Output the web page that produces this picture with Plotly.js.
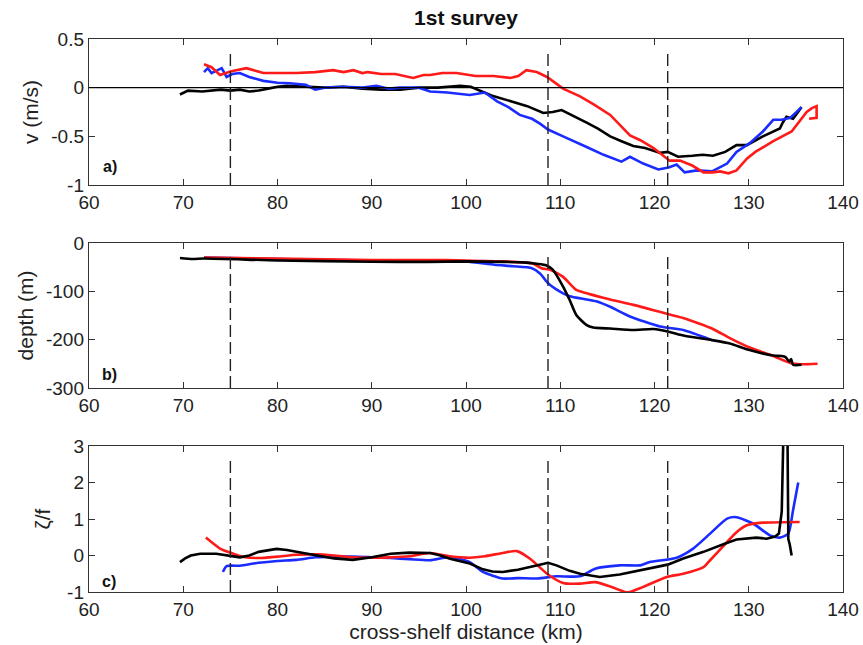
<!DOCTYPE html>
<html>
<head>
<meta charset="utf-8">
<script src="https://cdn.plot.ly/plotly-3.0.1.min.js"></script>
<style>html,body{margin:0;padding:0;background:#fff;}#chart{width:863px;height:645px;}</style>
</head>
<body>
<div id="chart"></div>
<script>
// ---------- data ----------
const xTicks = [60, 70, 80, 90, 100, 110, 120, 130, 140];
const xTickText = ["60", "70", "80", "90", "100", "110", "120", "130", "140"];
const vTicks = [-1, -0.5, 0, 0.5];
const vTickText = ["-1", "-0.5", "0", "0.5"];
const dTicks = [-300, -200, -100, 0];
const dTickText = ["-300", "-200", "-100", "0"];
const zTicks = [-1, 0, 1, 2, 3];
const zTickText = ["-1", "0", "1", "2", "3"];
const sectionBounds = [75, 108.7, 121.4];

// panel a: v (m/s)
const aBlackX = [69.65, 70.5, 72, 74, 75, 76, 77, 78, 79, 80, 81, 83, 85, 87, 89, 91, 93, 95, 97, 99.4, 100.5, 102.7, 104.5, 106.5, 108.2, 109.2, 110.15, 111.5, 112.8, 114, 115.3, 116.5, 117.75, 119, 120.6, 121.4, 122.5, 124, 125.1, 126.2, 127.5, 128.7, 129.8, 131.5, 133.3, 133.6, 134.0, 134.7, 135.6];
const aBlackY = [-0.07, -0.03, -0.04, -0.02, -0.03, -0.02, -0.04, -0.03, -0.01, 0.01, 0.02, 0.01, 0.0, 0.01, -0.01, -0.02, -0.02, 0.0, 0.0, 0.02, 0.01, -0.08, -0.13, -0.19, -0.26, -0.25, -0.23, -0.3, -0.36, -0.42, -0.5, -0.55, -0.6, -0.62, -0.67, -0.66, -0.71, -0.7, -0.69, -0.70, -0.66, -0.59, -0.59, -0.50, -0.42, -0.36, -0.30, -0.32, -0.20];
const aBlueX = [72.2, 72.6, 73.0, 73.5, 74.08, 74.6, 75.2, 76.0, 77.0, 78.5, 80, 81.3, 83, 84, 85, 87, 89, 90.5, 91.8, 93, 95, 96.2, 98, 100.4, 102.0, 103.3, 104.5, 105.7, 107, 107.85, 108.7, 110.3, 111.5, 112.8, 114.6, 116.5, 117.4, 118.8, 120.4, 121.5, 122.35, 123.2, 124.5, 126.1, 127.7, 128.7, 130.1, 131.5, 132.6, 133.5, 134.4, 135.6];
const aBlueY = [0.16, 0.2, 0.15, 0.17, 0.2, 0.11, 0.14, 0.15, 0.11, 0.07, 0.05, 0.045, 0.03, -0.02, 0.0, 0.01, 0.0, 0.02, -0.01, 0.0, 0.0, -0.04, -0.05, -0.075, -0.05, -0.14, -0.2, -0.28, -0.32, -0.37, -0.43, -0.50, -0.55, -0.61, -0.69, -0.76, -0.71, -0.78, -0.84, -0.82, -0.79, -0.87, -0.85, -0.86, -0.78, -0.66, -0.57, -0.45, -0.33, -0.33, -0.31, -0.20];
const aRedX = [72.2, 73.0, 73.9, 75.0, 76.7, 78.5, 80, 82, 84, 85.9, 87, 88.05, 89, 89.6, 91, 92.5, 94.4, 95.5, 96.2, 97.5, 99.0, 101, 102.9, 104.7, 105.55, 106.4, 107.5, 108.6, 110.3, 112.1, 113.5, 115.3, 117.4, 118.5, 119.9, 121.6, 122.7, 124, 125.2, 126.2, 126.95, 127.85, 128.7, 129.8, 130.7, 132.6, 134.55, 136.15, 136.7, 137.2, 137.2, 136.4];
const aRedY = [0.24, 0.21, 0.13, 0.165, 0.2, 0.15, 0.15, 0.15, 0.16, 0.18, 0.16, 0.18, 0.15, 0.16, 0.14, 0.14, 0.10, 0.13, 0.13, 0.15, 0.15, 0.12, 0.12, 0.10, 0.12, 0.18, 0.16, 0.11, -0.01, -0.09, -0.17, -0.28, -0.49, -0.54, -0.62, -0.75, -0.75, -0.8, -0.87, -0.87, -0.86, -0.88, -0.85, -0.73, -0.66, -0.55, -0.45, -0.25, -0.21, -0.19, -0.31, -0.32];

// panel b: depth (m)
const bBlackX = [69.65, 71, 72.2, 80, 90, 96, 100, 104, 106, 107.5, 108.5, 109.2, 110.3, 111.0, 111.7, 112.8, 113.5, 115.3, 117.75, 119.9, 121.4, 123.2, 126.1, 128, 129.8, 132.6, 133.5, 133.9, 134.3, 134.5, 134.7, 135.6];
const bBlackY = [-31, -33, -32, -36, -38.6, -39, -38, -39, -40, -43, -46, -55, -90, -118, -149, -170, -175, -177, -180, -178, -183, -192, -201, -208, -220, -233, -234, -236, -245, -240, -252, -252];
const bBlueX = [72.2, 80, 90, 96, 100, 103, 105, 107, 107.85, 108.7, 109.5, 110.3, 111.0, 113.9, 115.3, 117.4, 120.6, 123.05, 126.1];
const bBlueY = [-30, -33, -36, -37, -38, -45, -48, -52, -63, -83, -95, -104, -110, -121, -132, -152, -173, -180, -201];
const bRedX = [72.2, 80, 90, 96, 100, 104, 107, 108, 109, 110.3, 111.7, 112.8, 115.3, 117.75, 119.9, 121.4, 123.2, 124.5, 126.1, 128, 129.8, 132.6, 134.5, 135.5, 137.3];
const bRedY = [-30, -32, -35, -35, -36, -38, -42, -52, -56, -70, -97, -104, -117, -128, -139, -147, -156, -165, -177, -197, -214, -234, -249, -251, -250];

// panel c: zeta/f
const cBlackX = [69.65, 70.2, 70.8, 71.8, 73.5, 75, 76, 77, 78, 79.9, 81, 82, 84, 86, 88, 90, 92, 94, 96.2, 97.3, 98.3, 100.4, 101.8, 102.8, 103.9, 105.5, 107.6, 108.7, 109.6, 111, 112.1, 114.2, 116.3, 118.5, 119.5, 121.4, 123.05, 125.2, 127.3, 128.7, 130.8, 131.9, 132.8, 133.2, 133.5, 133.7, 134.1, 134.2, 134.35, 134.55];
const cBlackY = [-0.18, -0.08, 0.0, 0.05, 0.05, 0.0, -0.05, 0.0, 0.1, 0.18, 0.15, 0.1, 0.0, -0.08, -0.12, -0.05, 0.05, 0.08, 0.07, 0.0, -0.09, -0.22, -0.38, -0.44, -0.45, -0.39, -0.27, -0.2, -0.27, -0.42, -0.5, -0.59, -0.52, -0.41, -0.36, -0.25, -0.08, 0.1, 0.31, 0.44, 0.49, 0.46, 0.52, 0.6, 1.2, 3.6, 3.6, 0.45, 0.3, 0.0];
const cBlueX = [74.2, 74.6, 76, 78, 80, 82, 84, 86, 88, 90, 92, 94, 96.2, 98.3, 100.4, 101.8, 103.9, 105.5, 107.6, 109.6, 112.1, 113.7, 116.3, 118.5, 119.5, 122.35, 124.1, 125.9, 127.7, 128.7, 130.5, 132.25, 133.3, 134.2, 134.7, 135.25];
const cBlueY = [-0.45, -0.29, -0.28, -0.2, -0.15, -0.12, -0.05, -0.03, -0.03, -0.05, -0.07, -0.1, -0.13, -0.04, -0.18, -0.45, -0.63, -0.62, -0.63, -0.57, -0.57, -0.36, -0.27, -0.27, -0.18, -0.06, 0.19, 0.6, 1.01, 1.05, 0.87, 0.55, 0.49, 0.6, 1.24, 2.0];
const cRedX = [72.4, 73.9, 75.3, 76.4, 78, 80, 82, 84, 86, 88, 90, 92, 94, 96.2, 98.3, 100.4, 102, 103.9, 105.4, 106.8, 108.7, 110.3, 112.1, 113.7, 115.3, 116.9, 117.4, 118.8, 121.3, 123.05, 125.2, 125.9, 127.7, 128.7, 129.8, 131.5, 135.4];
const cRedY = [0.49, 0.19, 0.05, -0.04, -0.07, -0.03, 0.02, 0.03, 0.0, -0.05, -0.06, -0.05, -0.02, 0.07, -0.02, -0.06, -0.02, 0.07, 0.12, -0.09, -0.52, -0.75, -0.77, -0.73, -0.85, -1.0, -1.0, -0.86, -0.59, -0.5, -0.32, -0.13, 0.37, 0.64, 0.83, 0.9, 0.92];

// ---------- styling ----------
const BLACK = '#000000', BLUE = '#1a2cff', RED = '#ff1a1a';
const LW = 2.6;
const FONT = '"Liberation Sans", Arial, Helvetica, sans-serif';

function line(x, y, color, xa, ya, shape) {
  return {x: x, y: y, xaxis: xa, yaxis: ya, type: 'scatter', mode: 'lines',
          line: {color: color, width: LW, shape: shape || 'linear', smoothing: 0.6},
          showlegend: false, hoverinfo: 'skip'};
}

const traces = [
  line(aBlackX, aBlackY, BLACK, 'x', 'y'),
  line(aBlueX, aBlueY, BLUE, 'x', 'y'),
  line(aRedX, aRedY, RED, 'x', 'y'),
  line(bBlueX, bBlueY, BLUE, 'x2', 'y2', 'spline'),
  line(bRedX, bRedY, RED, 'x2', 'y2', 'spline'),
  line(bBlackX, bBlackY, BLACK, 'x2', 'y2', 'spline'),
  line(cBlueX, cBlueY, BLUE, 'x3', 'y3', 'spline'),
  line(cRedX, cRedY, RED, 'x3', 'y3', 'spline'),
  line(cBlackX, cBlackY, BLACK, 'x3', 'y3')
];

const tickFont = {family: FONT, size: 19, color: '#222'};
function xAxis(anchor, title) {
  const ax = {domain: [0, 1], anchor: anchor, range: [60, 140], tickvals: xTicks, ticktext: xTickText,
    ticks: 'inside', ticklen: 6, tickwidth: 1, tickcolor: '#333', mirror: 'ticks',
    showline: true, linecolor: '#333', linewidth: 1.2, showgrid: false, zeroline: false,
    tickfont: tickFont, automargin: false};
  if (title) ax.title = {text: title, font: {family: FONT, size: 21, color: '#222'}, standoff: 2};
  return ax;
}
function yAxis(anchor, domain, range, tv, tt, title, standoff) {
  return {domain: domain, anchor: anchor, range: range, tickvals: tv, ticktext: tt,
    ticks: 'inside', ticklen: 6, tickwidth: 1, tickcolor: '#333', mirror: 'ticks',
    showline: true, linecolor: '#333', linewidth: 1.2, showgrid: false, zeroline: false,
    tickfont: tickFont, automargin: false,
    title: {text: title, font: {family: FONT, size: 21, color: '#222'}, standoff: standoff}};
}

const shapes = [];
[['x', 'y'], ['x2', 'y2'], ['x3', 'y3']].forEach(function (p) {
  sectionBounds.forEach(function (b) {
    shapes.push({type: 'line', xref: p[0], yref: p[1] + ' domain', x0: b, x1: b, y0: 0, y1: 0.93,
                 line: {color: '#222', width: 1.4, dash: '12px,5px'}});
  });
});
shapes.push({type: 'line', xref: 'x domain', yref: 'y', x0: 0, x1: 1, y0: 0, y1: 0,
             line: {color: '#000', width: 1.2}});

const panelFont = {family: FONT, size: 16, color: '#111', weight: 'bold'};
const annotations = [
  {text: '<b>a)</b>', xref: 'paper', yref: 'y domain', x: 0.016, y: 0.125, xanchor: 'left', yanchor: 'middle', showarrow: false, font: panelFont},
  {text: '<b>b)</b>', xref: 'paper', yref: 'y2 domain', x: 0.014, y: 0.09, xanchor: 'left', yanchor: 'middle', showarrow: false, font: panelFont},
  {text: '<b>c)</b>', xref: 'paper', yref: 'y3 domain', x: 0.014, y: 0.07, xanchor: 'left', yanchor: 'middle', showarrow: false, font: panelFont}
];

const layout = {
  width: 863, height: 645,
  margin: {l: 89, r: 20, t: 39, b: 53},
  paper_bgcolor: '#fff', plot_bgcolor: '#fff',
  font: {family: FONT, color: '#222'},
  title: {text: '<b>1st survey</b>', x: 0.5, xref: 'paper', xanchor: 'center', y: 0.972, yref: 'container',
          yanchor: 'middle', font: {family: FONT, size: 21, color: '#111'}},
  xaxis: xAxis('y'),
  xaxis2: xAxis('y2'),
  xaxis3: xAxis('y3', 'cross-shelf distance (km)'),
  yaxis: yAxis('x', [0.736, 1], [-1, 0.5], vTicks, vTickText, 'v (m/s)', 6),
  yaxis2: yAxis('x2', [0.369, 0.631], [-300, 0], dTicks, dTickText, 'depth (m)', 6),
  yaxis3: yAxis('x3', [0, 0.264], [-1, 3], zTicks, zTickText, 'ζ/f', 10),
  shapes: shapes,
  annotations: annotations,
  showlegend: false
};

Plotly.newPlot('chart', traces, layout, {staticPlot: true, displayModeBar: false});
</script>
</body>
</html>
